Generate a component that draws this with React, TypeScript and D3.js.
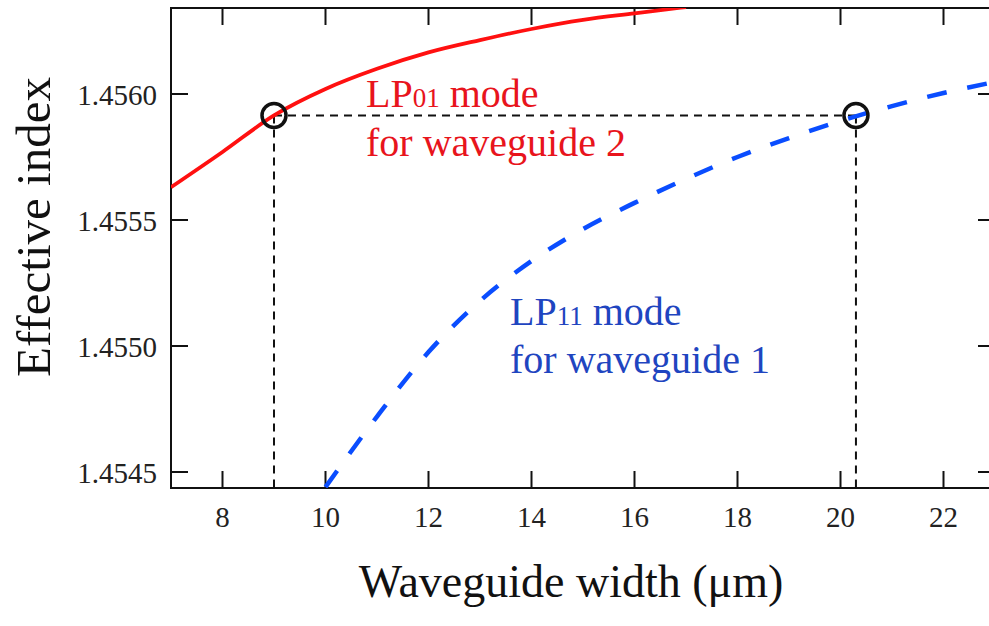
import React from 'react';
import { scaleLinear, line, curveMonotoneX, format } from 'd3';

// waveguide width (um) and effective index
const redWidths = [7, 8, 9, 10, 11, 12, 13, 14, 15, 16, 17];
const redIndex = [1.45563, 1.45577, 1.455915, 1.45602, 1.4561, 1.456165, 1.456214, 1.456258, 1.456294, 1.45632, 1.456345];

const blueWidths = [10, 11, 12, 13, 14, 15, 16, 17, 18, 19, 20, 21, 22, 23];
const blueIndex = [1.45444, 1.45472, 1.454976, 1.455179, 1.455337, 1.455464, 1.455568, 1.455663, 1.45575, 1.455825, 1.455893, 1.455952, 1.456004, 1.456048];

const crossWidths = [9, 20.3];
const crossIndex = 1.455915;

const xTicks = [8, 10, 12, 14, 16, 18, 20, 22];
const yTicks = [1.4545, 1.455, 1.4555, 1.456];

const W = 989;
const H = 626;
const left = 171, right = 995, top = 8, bottom = 488;
const tickLen = 17;
const serif = '"Liberation Serif", "DejaVu Serif", serif';

const App = () => {
  const x = scaleLinear().domain([7, 23]).range([left, right]);
  const y = scaleLinear().domain([1.4544365, 1.4563413]).range([bottom, top]);

  const red = redWidths.map((w, i) => [w, redIndex[i]] as [number, number]);
  const blue = blueWidths.map((w, i) => [w, blueIndex[i]] as [number, number]);

  const path = line<[number, number]>()
    .x(d => x(d[0]))
    .y(d => y(d[1]))
    .curve(curveMonotoneX);

  const fmt = format('.4f');

  return (
    <svg width={W} height={H} style={{ position: 'absolute', left: 0, top: 0, background: '#fff' }}>
      <defs>
        <clipPath id="plot">
          <rect x={left} y={top} width={right - left} height={bottom - top} />
        </clipPath>
      </defs>

      {/* frame */}
      <rect x={left} y={top} width={right - left} height={bottom - top} fill="none" stroke="#111" strokeWidth={2} />

      {/* ticks */}
      {xTicks.map(t => (
        <g key={'x' + t}>
          <line x1={x(t)} x2={x(t)} y1={bottom} y2={bottom - tickLen} stroke="#111" strokeWidth={2} />
          <line x1={x(t)} x2={x(t)} y1={top} y2={top + tickLen} stroke="#111" strokeWidth={2} />
          <text x={x(t)} y={527} textAnchor="middle" fontFamily={serif} fontSize={29} fill="#222">{t}</text>
        </g>
      ))}
      {yTicks.map(t => (
        <g key={'y' + t}>
          <line x1={left} x2={left + tickLen} y1={y(t)} y2={y(t)} stroke="#111" strokeWidth={2} />
          <line x1={right} x2={right - tickLen} y1={y(t)} y2={y(t)} stroke="#111" strokeWidth={2} />
          <text x={157} y={y(t) + 11} textAnchor="end" fontFamily={serif} fontSize={29} fill="#222">{fmt(t)}</text>
        </g>
      ))}

      <g clipPath="url(#plot)">
        {/* guide lines */}
        <line x1={x(crossWidths[0])} x2={x(crossWidths[1])} y1={y(crossIndex)} y2={y(crossIndex)}
          stroke="#111" strokeWidth={2} strokeDasharray="8 6" />
        {crossWidths.map(w => (
          <line key={'v' + w} x1={x(w)} x2={x(w)} y1={y(crossIndex)} y2={bottom}
            stroke="#111" strokeWidth={2} strokeDasharray="8 6" />
        ))}

        <path d={path(red) || ''} fill="none" stroke="#ff1010" strokeWidth={3.8} />
        <path d={path(blue) || ''} fill="none" stroke="#0a4dff" strokeWidth={4.5} strokeDasharray="20 21" />

        {crossWidths.map(w => (
          <circle key={'c' + w} cx={x(w)} cy={y(crossIndex)} r={12} fill="none" stroke="#111" strokeWidth={3.5} />
        ))}
      </g>

      {/* labels */}
      <text x={366} y={107} fontFamily={serif} fontSize={40} fill="#e8141c">
        LP<tspan fontSize={27}>01</tspan> mode
      </text>
      <text x={366} y={156} fontFamily={serif} fontSize={40} fill="#e8141c">for waveguide 2</text>

      <text x={510} y={325} fontFamily={serif} fontSize={40} fill="#1f45c0">
        LP<tspan fontSize={27}>11</tspan> mode
      </text>
      <text x={510} y={373} fontFamily={serif} fontSize={40} fill="#1f45c0">for waveguide 1</text>

      <text x={571} y={597} textAnchor="middle" fontFamily={serif} fontSize={46} fill="#111">
        Waveguide width (μm)
      </text>
      <text transform={`translate(50, ${227}) rotate(-90)`} textAnchor="middle" fontFamily={serif} fontSize={49} fill="#111">
        Effective index
      </text>
    </svg>
  );
};

export default App;
